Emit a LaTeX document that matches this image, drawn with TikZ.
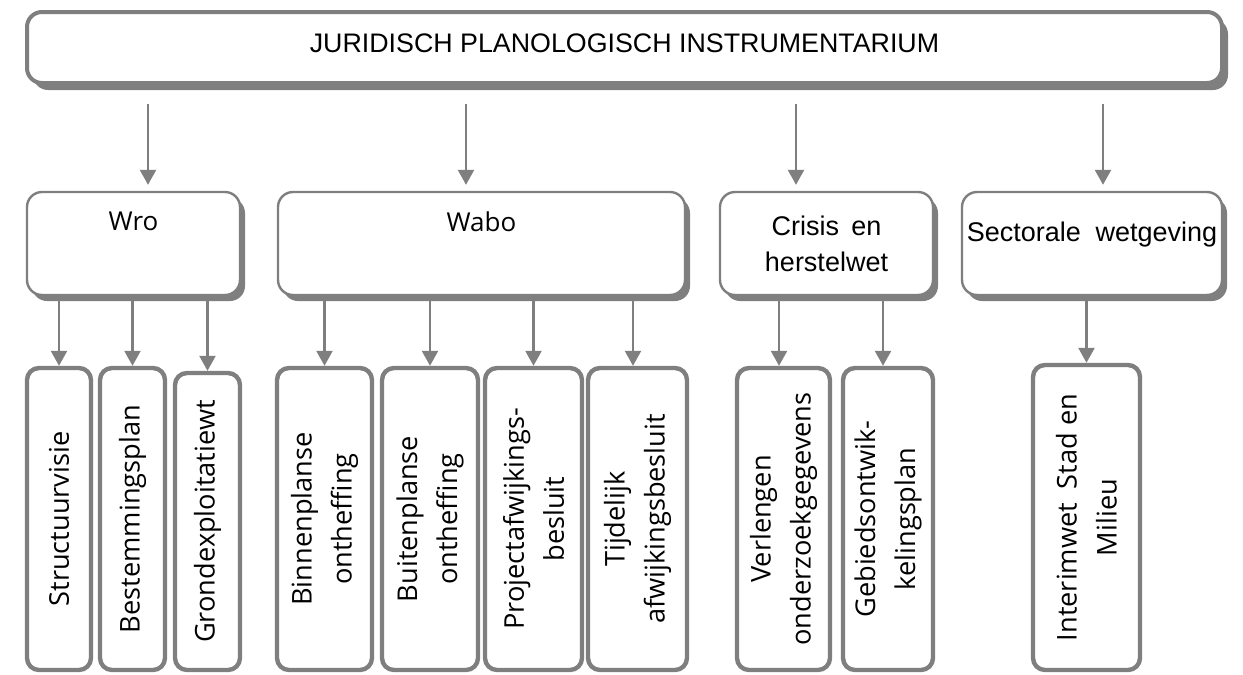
\documentclass[tikz,border=0pt]{standalone}
\usepackage{fontspec}
\setmainfont{Liberation Sans}
\newfontfamily\osans{Open Sans}
\usetikzlibrary{arrows.meta,shadows}
\definecolor{boxgray}{HTML}{7F7F7F}
\tikzset{
  topbox/.style={draw=boxgray, line width=2pt, rounded corners=7.5pt, fill=white, inner sep=0pt,
    drop shadow={shadow xshift=3pt, shadow yshift=-3.5pt, fill=boxgray, opacity=1}},
  lawbox/.style={draw=boxgray, line width=1.2pt, rounded corners=7.5pt, fill=white, inner sep=0pt,
    drop shadow={shadow xshift=2.5pt, shadow yshift=-3pt, fill=boxgray, opacity=1}},
  planbox/.style={draw=boxgray, line width=2.2pt, rounded corners=6pt, fill=white, inner sep=0pt},
  lawtxt/.style={anchor=center, font=\fontsize{13.5}{18}\selectfont, align=center},
  wtxt/.style={anchor=center, font=\osans\fontsize{13}{16}\selectfont},
  vtext/.style={rotate=90, font=\osans\fontsize{13.6}{20}\selectfont, align=center},
  arr/.style={draw=boxgray, line width=1.2pt, -{Triangle[width=8pt,length=7.5pt]}}
}
\begin{document}
\begin{tikzpicture}[x=0.5pt,y=-0.5pt]
\useasboundingbox (0,0) rectangle (1243,675);

\node[topbox, minimum width=597.5pt, minimum height=35.5pt,
  label={[lawtxt, font=\fontsize{13.4}{16}\selectfont, yshift=-16.5pt]north:JURIDISCH PLANOLOGISCH INSTRUMENTARIUM}] (top) at (624.5,47.5) {};

\node[lawbox, minimum width=106.5pt, minimum height=51.5pt,
  label={[wtxt, yshift=-15.5pt]north:Wro}] (wro) at (133.5,243.5) {};
\node[lawbox, minimum width=203.5pt, minimum height=51.5pt,
  label={[wtxt, yshift=-15.5pt]north:Wabo}] (wabo) at (481.5,243.5) {};
\node[lawbox, minimum width=106.5pt, minimum height=51.5pt,
  label={[lawtxt, yshift=-26.5pt]north:Crisis\hspace{0.45em}en\\herstelwet}] (crisis) at (826.5,243.5) {};
\node[lawbox, minimum width=130pt, minimum height=51.5pt,
  label={[lawtxt, yshift=-22pt]north:Sectorale\hspace{0.55em}wetgeving}] (sector) at (1092,243.5) {};

\node[planbox, minimum width=32pt, minimum height=151pt, label={[vtext]center:Structuurvisie}] (struct) at (59,519) {};
\node[planbox, minimum width=32.5pt, minimum height=151pt, label={[vtext]center:Bestemmingsplan}] (bestem) at (132.5,519) {};
\node[planbox, minimum width=32.5pt, minimum height=148.5pt, label={[vtext]center:Grondexploitatiewt}] (grond) at (207.5,521.5) {};
\node[planbox, minimum width=47.5pt, minimum height=151pt, label={[vtext]center:Binnenplanse\\ontheffing}] (binnen) at (324.5,519) {};
\node[planbox, minimum width=48pt, minimum height=151pt, label={[vtext]center:Buitenplanse\\ontheffing}] (buiten) at (430,519) {};
\node[planbox, minimum width=48.5pt, minimum height=151pt, label={[vtext]center:Projectafwijkings-\\besluit}] (project) at (533.5,519) {};
\node[planbox, minimum width=49.5pt, minimum height=151pt, label={[vtext]center:Tijdelijk\\afwijkingsbesluit}] (tijdelijk) at (637.5,519) {};
\node[planbox, minimum width=46.5pt, minimum height=151pt, label={[vtext]center:Verlengen\\onderzoekgegevens}] (verlengen) at (783.5,519) {};
\node[planbox, minimum width=45pt, minimum height=151pt, label={[vtext]center:Gebiedsontwik-\\kelingsplan}] (gebied) at (888,519) {};
\node[planbox, minimum width=53.5pt, minimum height=152.5pt, label={[vtext]center:Interimwet\hspace{0.5em}Stad en\\Milieu}] (interim) at (1086.5,517.5) {};

\draw[arr, shorten <=9.5pt, shorten >=3pt] ([xshift=7.25pt]wro.north |- top.south) -- ([xshift=7.25pt]wro.north);
\draw[arr, shorten <=9.5pt, shorten >=3pt] ([xshift=-7.75pt]wabo.north |- top.south) -- ([xshift=-7.75pt]wabo.north);
\draw[arr, shorten <=9.5pt, shorten >=3pt] ([xshift=-15.25pt]crisis.north |- top.south) -- ([xshift=-15.25pt]crisis.north);
\draw[arr, shorten <=9.5pt, shorten >=3pt] ([xshift=5.5pt]sector.north |- top.south) -- ([xshift=5.5pt]sector.north);

\draw[arr] (struct.north |- wro.south) -- (struct.north);
\draw[arr] (bestem.north |- wro.south) -- (bestem.north);
\draw[arr] (grond.north |- wro.south) -- (grond.north);
\draw[arr] (binnen.north |- wabo.south) -- (binnen.north);
\draw[arr] (buiten.north |- wabo.south) -- (buiten.north);
\draw[arr] (project.north |- wabo.south) -- (project.north);
\draw[arr] ([xshift=-2.25pt]tijdelijk.north |- wabo.south) -- ([xshift=-2.25pt]tijdelijk.north);
\draw[arr] ([xshift=-2.25pt]verlengen.north |- crisis.south) -- ([xshift=-2.25pt]verlengen.north);
\draw[arr] ([xshift=-2.5pt]gebied.north |- crisis.south) -- ([xshift=-2.5pt]gebied.north);
\draw[arr] (interim.north |- sector.south) -- (interim.north);
\end{tikzpicture}
\end{document}
